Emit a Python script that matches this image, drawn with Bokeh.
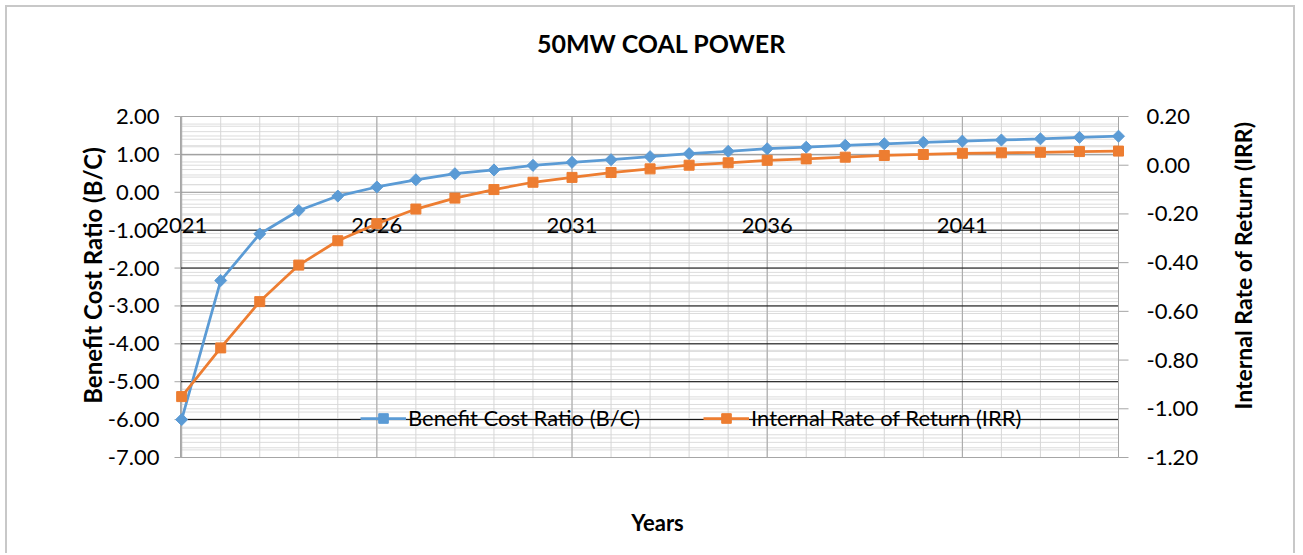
import math
from bokeh.plotting import figure
from bokeh.models import Range1d, Legend, LegendItem, ColumnDataSource, Label
from bokeh.core.properties import value
from bokeh.embed import file_html
from bokeh.resources import INLINE

# ---- data ----
years = list(range(2021, 2046))
bc_ratio = [-6.00, -2.33, -1.10, -0.48, -0.10, 0.14, 0.33, 0.49, 0.59, 0.71,
            0.79, 0.86, 0.94, 1.02, 1.08, 1.15, 1.19, 1.24, 1.28, 1.32,
            1.35, 1.38, 1.41, 1.45, 1.48]
irr = [-0.95, -0.75, -0.56, -0.41, -0.31, -0.24, -0.18, -0.135, -0.10, -0.07,
       -0.05, -0.03, -0.015, 0.00, 0.01, 0.02, 0.026, 0.033, 0.04, 0.044,
       0.049, 0.051, 0.053, 0.056, 0.058]
year_labels = ["2021", "2026", "2031", "2036", "2041"]
left_ticks = [-7, -6, -5, -4, -3, -2, -1, 0, 1, 2]
right_ticks = [-1.2, -1.0, -0.8, -0.6, -0.4, -0.2, 0.0, 0.2]
series_names = ["Benefit Cost Ratio (B/C)", "Internal Rate of Return (IRR)"]
title_text = "50MW COAL POWER"
x_title = "Years"

FONT = "Lato"
BLUE = "#5B9BD5"
ORANGE = "#ED7D31"
AXIS_GRAY = "#a6a6a6"
MINOR = "#dcdcdc"
EDGE = "2px solid #c8c8c8"

# ---- layout: the frame is the whole canvas; the plot area is drawn inside ----
W, H = 1290, 548
PL, PR, PT, PB = 173, 1111, 109, 450          # plot area in canvas px
X0, X1 = 2020.97, 2045.0                       # x extent of plot area
Y0, Y1 = left_ticks[0], left_ticks[-1]         # left axis extent
R0, R1 = right_ticks[0], right_ticks[-1]       # right axis extent

kx = (PR - PL) / (X1 - X0)
ky = (PB - PT) / (Y1 - Y0)
kr = (PB - PT) / (R1 - R0)

p = figure(width=W, height=H, output_backend="svg", toolbar_location=None,
           x_range=Range1d(X0 - PL / kx, X1 + (W - PR) / kx),
           y_range=Range1d(Y0 - (H - PB) / ky, Y1 + PT / ky),
           x_axis_location=None, y_axis_location=None,
           min_border_left=0, min_border_right=0, min_border_top=0, min_border_bottom=0)
p.extra_y_ranges = {"irr": Range1d(R0 - (H - PB) / kr, R1 + PT / kr)}
p.outline_line_color = None
p.background_fill_color = "white"
p.border_fill_color = "white"
p.grid.visible = False
p.styles = {"margin-left": "5px", "margin-top": "5px",
            "border-left": EDGE, "border-top": EDGE, "border-right": EDGE}

def hlines(ys, color, rng="default"):
    n = len(ys)
    p.segment(x0=[X0] * n, y0=ys, x1=[X1] * n, y1=ys, line_color=color,
              line_width=1, y_range_name=rng)

def vlines(xs, color):
    n = len(xs)
    p.segment(x0=xs, y0=[Y0] * n, x1=xs, y1=[Y1] * n, line_color=color, line_width=1)

# ---- gridlines ----
hlines([round(Y0 + 0.2 * i, 2) for i in range(int((Y1 - Y0) / 0.2) + 1)], MINOR)
hlines([round(R0 + 0.04 * i, 3) for i in range(int(round((R1 - R0) / 0.04)) + 1)], MINOR, "irr")
vlines(years, "#d6d6d6")
vlines([int(s) for s in year_labels], AXIS_GRAY)
hlines([t for t in left_ticks if t in (0, 1)], "#9a9a9a")
hlines([t for t in left_ticks if Y0 < t < 0], "#000000")
hlines([Y0, Y1], AXIS_GRAY)
vlines([X0, X1], AXIS_GRAY)

# ---- axis ticks ----
nl = len(left_ticks)
p.segment(x0=[X0 - 6 / kx] * nl, y0=left_ticks, x1=[X0] * nl, y1=left_ticks,
          line_color=AXIS_GRAY, line_width=1)
nr = len(right_ticks)
p.segment(x0=[X1] * nr, y0=right_ticks, x1=[X1 + 10 / kx] * nr, y1=right_ticks,
          line_color=AXIS_GRAY, line_width=1, y_range_name="irr")

# ---- tick labels ----
p.text(x=[X0] * nl, y=left_ticks, text=[f"{t:.2f}" for t in left_ticks],
       x_offset=-21, text_align="right", text_baseline="middle",
       text_font=value(FONT), text_font_size="22px", text_color="#000000")
p.text(x=[X1] * nr, y=right_ticks, text=[f"{t:.2f}" for t in right_ticks],
       x_offset=28, text_align="left", text_baseline="middle", y_range_name="irr",
       text_font=value(FONT), text_font_size="22px", text_color="#000000")
p.text(x=[int(s) for s in year_labels], y=[-1] * len(year_labels), text=year_labels,
       y_offset=-5, text_align="center", text_baseline="middle",
       text_font=value(FONT), text_font_size="22px", text_color="#000000")

# ---- series ----
src = ColumnDataSource(dict(year=years, bc=bc_ratio, irr=irr))
bl = p.line("year", "bc", source=src, line_color=BLUE, line_width=2.75)
bm = p.scatter("year", "bc", source=src, marker="square", angle=math.pi / 4, size=8.5,
               fill_color=BLUE, line_color=BLUE)
ol = p.line("year", "irr", source=src, y_range_name="irr",
            line_color=ORANGE, line_width=2.75)
om = p.scatter("year", "irr", source=src, y_range_name="irr", marker="square",
               size=10, fill_color=ORANGE, line_color=ORANGE)

# ---- titles (canvas px, origin top-left) ----
def label(x, y, text, size, angle=0.0):
    p.add_layout(Label(x=x, y=y, x_units="canvas", y_units="canvas", text=text,
                       angle=angle, text_align="center", text_baseline="middle",
                       text_font=FONT, text_font_size=size, text_font_style="bold",
                       text_color="#000000"))

label(652, 33, title_text, "25px")
label(648, 513, x_title, "22px")
label(83, 266, series_names[0], "24px", math.pi / 2)
label(1233, 256, series_names[1], "23px", math.pi / 2)

# ---- legend ----
legend = Legend(items=[LegendItem(label=series_names[0], renderers=[bl, bm]),
                       LegendItem(label=series_names[1], renderers=[ol, om])],
                orientation="horizontal", location=(353, 124),
                background_fill_alpha=0, border_line_color=None,
                label_text_font=FONT, label_text_font_size="22px",
                label_text_color="#000000",
                glyph_width=46, glyph_height=24, label_height=24,
                label_standoff=2, spacing=63, padding=0, margin=0)
p.add_layout(legend)

open("out.html", "w").write(file_html(p, INLINE))
